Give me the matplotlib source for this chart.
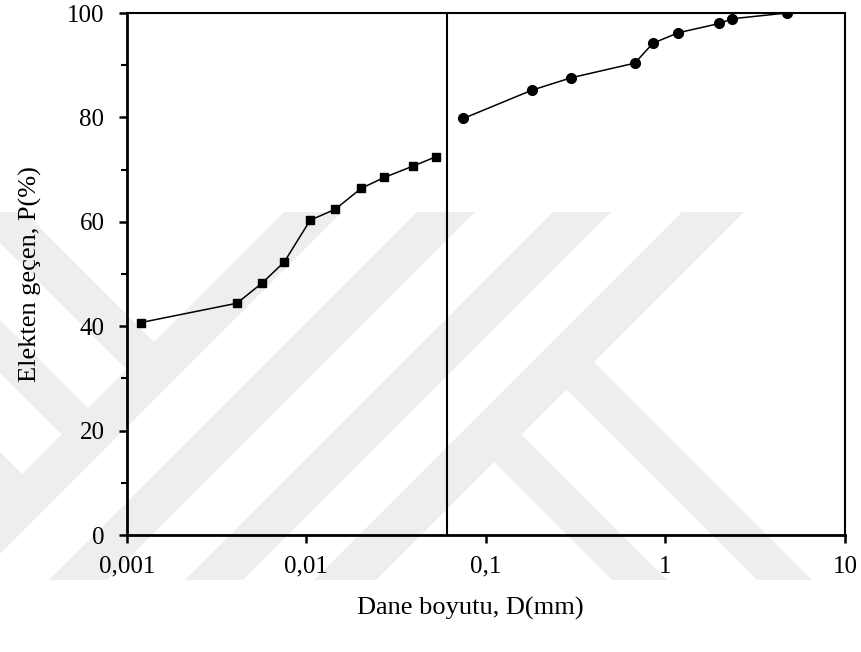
import matplotlib
matplotlib.use("Agg")
import matplotlib.pyplot as plt
from matplotlib.patches import Polygon, Rectangle
from matplotlib.ticker import FixedLocator, FixedFormatter, MultipleLocator, NullLocator

plt.rcParams.update({
    "font.family": "Liberation Serif",
    "font.size": 18,
    "axes.labelsize": 19,
    "xtick.labelsize": 18,
    "ytick.labelsize": 18,
})

# hydrometer part (squares)
d_hydro = [0.00120, 0.00411, 0.00569, 0.00754, 0.01051, 0.01449, 0.0202, 0.0272, 0.0395, 0.0531]
p_hydro = [40.7, 44.4, 48.3, 52.3, 60.3, 62.4, 66.4, 68.5, 70.7, 72.5]

# sieve part (circles)
d_sieve = [0.075, 0.180, 0.299, 0.676, 0.851, 1.174, 2.00, 2.36, 4.75]
p_sieve = [79.8, 85.2, 87.6, 90.4, 94.2, 96.2, 98.0, 98.9, 100.0]

d_split = 0.061
x_ticks = [0.001, 0.01, 0.1, 1, 10]
x_labels = ['0,001', '0,01', '0,1', '1', '10']

W, H = 862, 652
fig = plt.figure(figsize=(W / 100, H / 100), dpi=100)

# faint thesis watermark in the background (pixel coordinates)
bg = fig.add_axes([0, 0, 1, 1], zorder=0)
bg.set_xlim(0, W)
bg.set_ylim(H, 0)
bg.axis('off')
wm = '#eeeeee'
T, B = 212, 580
clip = Rectangle((0, T), W, B - T, transform=bg.transData, visible=False)
bg.add_patch(clip)


def slash(x0, w):
    return [(x0, T), (x0 + w, T), (x0 + w - (B - T), B), (x0 - (B - T), B)]


def back(a_low, a_up, c, upward=False):
    # "\" band x = a + y, joined to a "/" line x = c - y
    y1 = (c - a_low) / 2
    y2 = (c - a_up) / 2
    if upward:
        return [(a_low + y1, y1), (a_up + y2, y2), (a_up + T, T), (a_low + T, T)]
    return [(a_low + y1, y1), (a_up + y2, y2), (a_up + B, B), (a_low + B, B)]


shapes = [slash(284, 58), slash(417, 58), slash(553, 58), slash(682, 62),
          back(-243, -188, 525, upward=True), back(-373, -320, 525, upward=True),
          back(-505, -452, 525, upward=True),
          back(177, 232, 925), back(32, 87, 925)]
for s in shapes:
    p = Polygon(s, closed=True, facecolor=wm, edgecolor='none')
    bg.add_patch(p)
    p.set_clip_path(clip)

ax = fig.add_axes([126.7 / W, 1 - 535 / H, (845 - 126.7) / W, (535 - 13) / H], zorder=1)
ax.set_facecolor('none')

ax.plot(d_hydro, p_hydro, color='black', linewidth=1.1, marker='s', markersize=5.5)
ax.plot(d_sieve, p_sieve, color='black', linewidth=1.1, marker='o', markersize=7)
ax.axvline(d_split, color='black', linewidth=1.5)

ax.set_xscale('log')
ax.set_xlim(0.001, 10)
ax.set_ylim(0, 100)
ax.xaxis.set_major_locator(FixedLocator(x_ticks))
ax.xaxis.set_major_formatter(FixedFormatter(x_labels))
ax.xaxis.set_minor_locator(NullLocator())
ax.yaxis.set_major_locator(MultipleLocator(20))
ax.yaxis.set_minor_locator(MultipleLocator(10))

ax.tick_params(axis='both', which='major', direction='out', length=6, width=1.8, colors='black')
ax.tick_params(axis='y', which='minor', direction='out', length=4, width=1.5)
ax.tick_params(axis='y', which='major', pad=10)
ax.tick_params(axis='x', which='major', pad=9)

for side in ['left', 'bottom']:
    ax.spines[side].set_linewidth(2.0)
for side in ['top', 'right']:
    ax.spines[side].set_linewidth(1.5)

ax.set_xlabel('Dane boyutu, D(mm)', labelpad=14, x=(470 - 126.7) / (845 - 126.7))
ax.set_ylabel('Elekten geçen, P(%)', labelpad=18)

fig.savefig('out.png', dpi=100)
